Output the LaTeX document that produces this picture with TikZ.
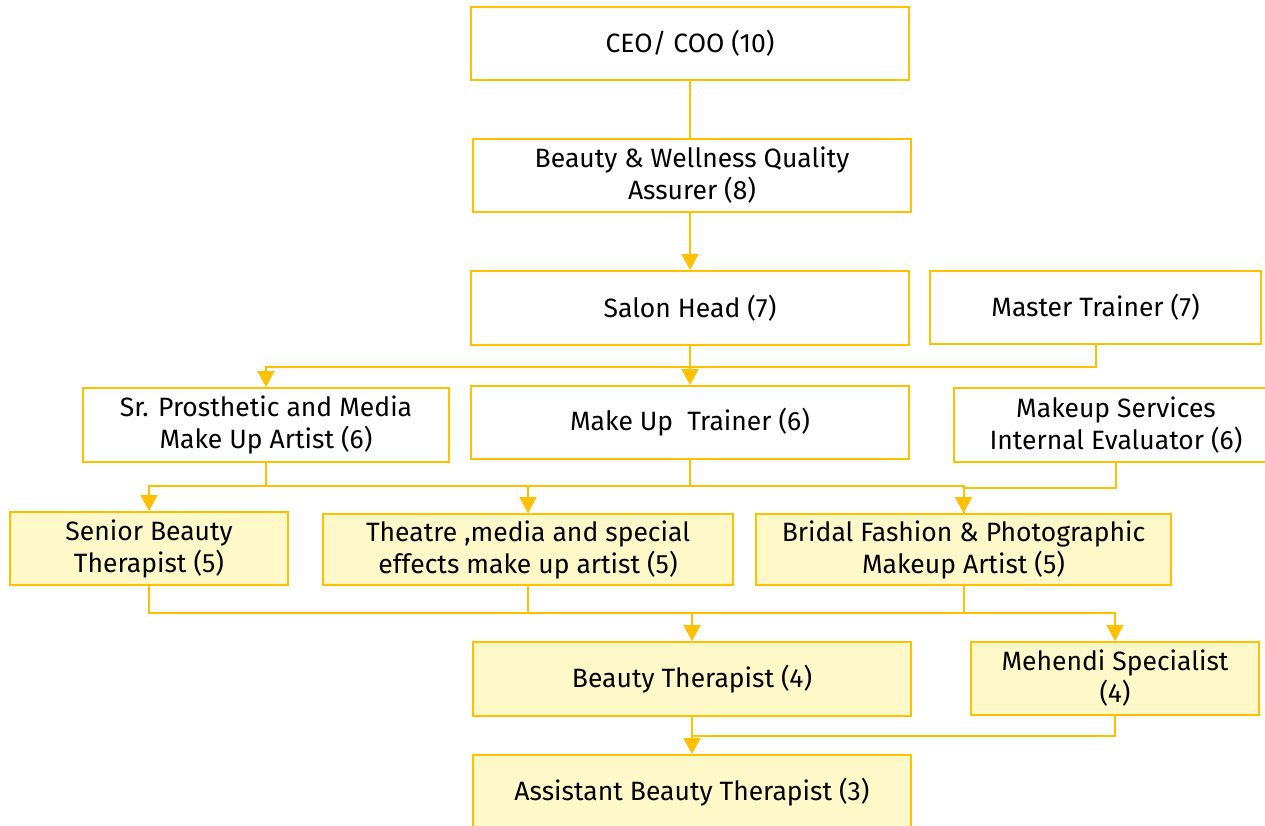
\documentclass[tikz,border=0pt]{standalone}
\usepackage{fontspec}
\setmainfont{Fira Sans}
\usetikzlibrary{arrows.meta}
\definecolor{ybord}{HTML}{FFC000}
\definecolor{yfill}{HTML}{FFF9C9}
\begin{document}
\begin{tikzpicture}[x=1pt,y=-1pt,
  box/.style={draw=ybord,line width=2pt,fill=white,inner sep=0pt,align=center,
    font=\fontsize{26.5}{32}\selectfont,text=black},
  ybox/.style={box,fill=yfill},
  conn/.style={draw=ybord,line width=2pt},
  arr/.style={conn,-{Triangle[width=17pt,length=16pt]}}]
\useasboundingbox (0,0) rectangle (1265,826);
\node[box,minimum width=438pt,minimum height=73pt] (ceo) at (690,43.5) {CEO/ COO (10)};
\node[box,minimum width=438pt,minimum height=73pt] (bwqa) at (692,175.5) {Beauty \& Wellness Quality\\Assurer (8)};
\node[box,minimum width=438pt,minimum height=74pt] (salon) at (690,308) {Salon Head (7)};
\node[box,minimum width=331pt,minimum height=73pt] (master) at (1095.5,307.5) {Master Trainer (7)};
\node[box,minimum width=366pt,minimum height=74pt] (sr) at (266,425) {Sr. Prosthetic and Media\\Make Up Artist (6)};
\node[box,minimum width=438pt,minimum height=73pt] (mut) at (690,422.5) {Make Up\ \ Trainer (6)};
\node[box,minimum width=324pt,minimum height=74pt] (mse) at (1116,425) {Makeup Services\\Internal Evaluator (6)};
\node[ybox,minimum width=278pt,minimum height=73pt] (sbt) at (149,548.5) {Senior Beauty\\Therapist (5)};
\node[ybox,minimum width=410pt,minimum height=71pt] (thea) at (528,549.5) {Theatre ,media and special\\effects make up artist (5)};
\node[ybox,minimum width=415pt,minimum height=71pt] (brid) at (963.5,549.5) {Bridal Fashion \& Photographic\\Makeup Artist (5)};
\node[ybox,minimum width=438pt,minimum height=74pt] (bt) at (692,679) {Beauty Therapist (4)};
\node[ybox,minimum width=288pt,minimum height=73pt] (meh) at (1115,678.5) {Mehendi Specialist\\(4)};
\node[ybox,minimum width=438pt,minimum height=74pt] (abt) at (692,792) {Assistant Beauty Therapist (3)};
% junction coordinates
\coordinate (j1) at (690,367);
\coordinate (j2) at (690,486);
\coordinate (j2r) at (1116,488);
\coordinate (j3) at (692,613);
\coordinate (j4) at (692,736);
% connectors
\draw[conn] (ceo.south) -- (bwqa.north -| ceo.south);
\draw[arr] (bwqa.south -| salon.north) -- (salon.north);
\draw[conn] (salon.south) -- (j1);
\draw[arr] (j1) -| (sr.north);
\draw[arr] (j1) -- (mut.north);
\draw[conn] (master.south) |- (j1);
\draw[conn] (sr.south) |- (j2);
\draw[conn] (mut.south) -- (j2);
\draw[arr] (j2) -| (sbt.north);
\draw[arr] (j2) -| (thea.north);
\draw[arr] (j2) -| (brid.north);
\draw[conn] (mse.south) -- (j2r) -| (brid.north);
\draw[conn] (sbt.south) |- (j3);
\draw[conn] (thea.south) |- (j3);
\draw[conn] (brid.south) |- (j3);
\draw[arr] (j3) -- (bt.north);
\draw[arr] (j3) -| (meh.north);
\draw[arr] (bt.south) -- (abt.north);
\draw[conn] (meh.south) |- (j4);
\end{tikzpicture}
\end{document}
